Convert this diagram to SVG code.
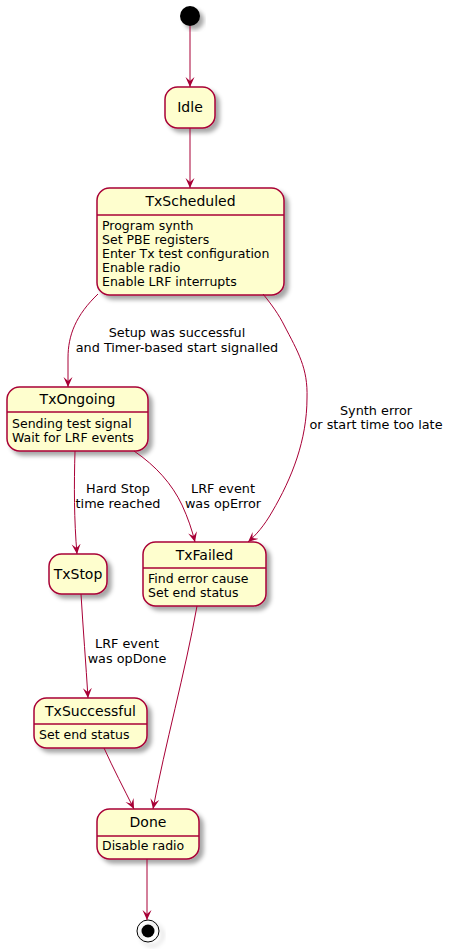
<svg xmlns="http://www.w3.org/2000/svg" width="449" height="951" viewBox="0 0 449 951">
<style>
.st{fill:#FEFECE;stroke:#A80036;stroke-width:1.5;filter:url(#sh)}
.sep{stroke:#A80036;stroke-width:1.5}
.t{font-family:"DejaVu Sans",sans-serif;font-size:14px;fill:#000;text-anchor:middle}
.b{font-family:"DejaVu Sans",sans-serif;font-size:12.5px;fill:#000}
.l{font-family:"DejaVu Sans",sans-serif;font-size:12.8px;fill:#000;text-anchor:middle}
.e{fill:none;stroke:#A80036;stroke-width:1;marker-end:url(#ah)}
</style>
<defs>
<filter id="sh" x="-20%" y="-20%" width="150%" height="150%">
<feDropShadow dx="4" dy="4" stdDeviation="2" flood-color="#000" flood-opacity="0.35"/>
</filter>
<marker id="ah" markerUnits="userSpaceOnUse" viewBox="0 0 10 10" markerWidth="10" markerHeight="10" refX="10" refY="5" orient="auto">
<path d="M0,0.5 L10,5 L0,9.5 L4,5 Z" fill="#A80036"/>
</marker>
</defs>
<g id="start"><circle cx="190" cy="16" r="10" fill="#000" filter="url(#sh)"/></g>
<g id="Idle"><rect class="st" x="165" y="87" width="50" height="41" rx="12.5"/><text class="t" x="190" y="112">Idle</text></g>
<g id="TxScheduled"><rect class="st" x="97" y="188" width="187" height="107" rx="12.5"/><line class="sep" x1="97" y1="215" x2="284" y2="215"/><text class="t" x="190.5" y="206">TxScheduled</text>
<text class="b" x="102" y="230">Program synth</text><text class="b" x="102" y="244">Set PBE registers</text><text class="b" x="102" y="258">Enter Tx test configuration</text><text class="b" x="102" y="272">Enable radio</text><text class="b" x="102" y="286">Enable LRF interrupts</text></g>
<g id="TxOngoing"><rect class="st" x="7" y="387" width="141" height="64" rx="12.5"/><line class="sep" x1="7" y1="412" x2="148" y2="412"/><text class="t" x="77.5" y="404">TxOngoing</text>
<text class="b" x="12" y="428">Sending test signal</text><text class="b" x="12" y="442">Wait for LRF events</text></g>
<g id="TxStop"><rect class="st" x="49" y="554" width="58" height="40" rx="12.5"/><text class="t" x="78" y="579">TxStop</text></g>
<g id="TxFailed"><rect class="st" x="143" y="542" width="123" height="64" rx="12.5"/><line class="sep" x1="143" y1="568" x2="266" y2="568"/><text class="t" x="204.5" y="560">TxFailed</text>
<text class="b" x="148" y="583">Find error cause</text><text class="b" x="148" y="597">Set end status</text></g>
<g id="TxSuccessful"><rect class="st" x="34" y="698" width="113" height="50" rx="12.5"/><line class="sep" x1="34" y1="724" x2="147" y2="724"/><text class="t" x="90.5" y="716">TxSuccessful</text>
<text class="b" x="39" y="739">Set end status</text></g>
<g id="Done"><rect class="st" x="97" y="809" width="102" height="50" rx="12.5"/><line class="sep" x1="97" y1="836" x2="199" y2="836"/><text class="t" x="148" y="827">Done</text>
<text class="b" x="102" y="850">Disable radio</text></g>
<g id="end"><circle cx="148" cy="931" r="11" fill="none" stroke="#000" stroke-width="1" filter="url(#sh)"/><circle cx="148" cy="931" r="6.5" fill="#000"/></g>
<g id="connectors">
<path class="e" d="M190,26 L190,87"/>
<path class="e" d="M190,128 L190,188"/>
<path class="e" d="M98,294 C76,315 68,335 68,358 L68,387"/>
<path class="e" d="M263,294 C272,305 279,315 284,325 C298,352 308,368 307,398 C307,440 292,478 272,512 C264,526 256,535 248,542"/>
<path class="e" d="M75,451 C74,485 74,520 77,554"/>
<path class="e" d="M134,451 C156,466 172,484 182,505 C188,518 192,530 195,542"/>
<path class="e" d="M81,594 C83,628 86,665 88,698"/>
<path class="e" d="M197,606 C185,673 165,745 153,809"/>
<path class="e" d="M104,748 C113,768 124,789 134,809"/>
<path class="e" d="M147,859 L147,920"/>
<text class="l" x="177" y="337">Setup was successful</text>
<text class="l" x="177" y="352">and Timer-based start signalled</text>
<text class="l" x="376" y="415">Synth error</text>
<text class="l" x="376" y="429">or start time too late</text>
<text class="l" x="118" y="493">Hard Stop</text>
<text class="l" x="118" y="508">time reached</text>
<text class="l" x="223" y="493">LRF event</text>
<text class="l" x="223" y="508">was opError</text>
<text class="l" x="127" y="648">LRF event</text>
<text class="l" x="127" y="663">was opDone</text>
</g>
</svg>
